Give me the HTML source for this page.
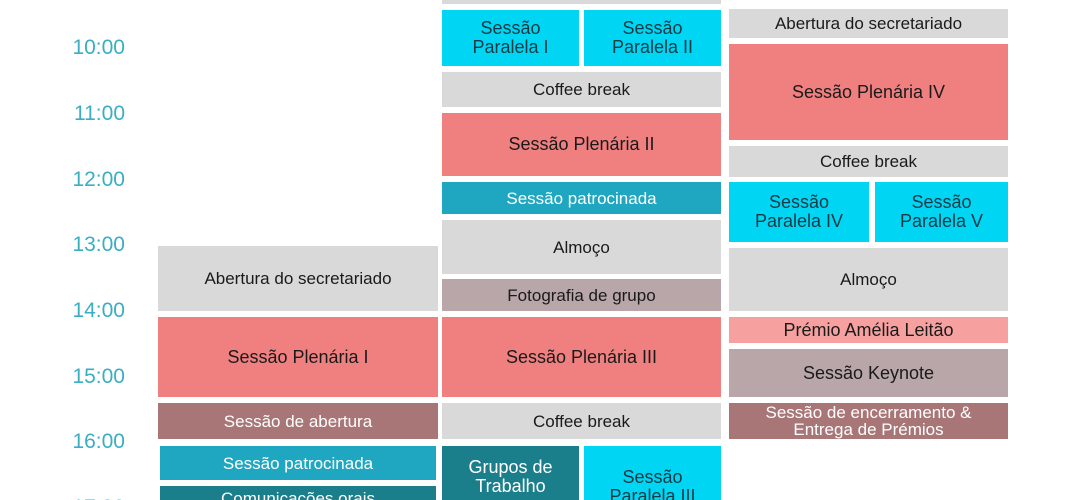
<!DOCTYPE html>
<html style="height:500px;overflow:hidden"><head><meta charset="utf-8"><style>
body{margin:0;width:1080px;height:500px;overflow:hidden;background:#fff;position:relative;font-family:"Liberation Sans",sans-serif}
.b{position:absolute;display:flex;align-items:center;justify-content:center;text-align:center;font-size:17px;line-height:19px;color:#1a1a1a;box-sizing:border-box}
.g{background:#d9d9d9}.r{background:#f08080}.c{background:#00d5f4;color:#113a44;font-size:18px}
.p{background:#1fa6c0;color:#fff}.d{background:#1b7f8b;color:#fff;font-size:18px}
.m{background:#a87676;color:#fff}.f{background:#b9a6a8}.l{background:#f7a0a0}
.t{position:absolute;right:955px;font-size:21px;color:#3aaec2;font-weight:300;transform:translateY(-50%)}
</style></head><body>
<div class="t" style="top:48px">10:00</div>
<div class="t" style="top:114px">11:00</div>
<div class="t" style="top:180px">12:00</div>
<div class="t" style="top:245px">13:00</div>
<div class="t" style="top:311px">14:00</div>
<div class="t" style="top:377px">15:00</div>
<div class="t" style="top:442px">16:00</div>
<div class="t" style="top:508px">17:00</div>

<div class="b g" style="left:158px;top:246px;width:280px;height:65px">Abertura do secretariado</div>
<div class="b r" style="left:158px;top:317px;width:280px;height:80px;font-size:18px">Sessão Plenária I</div>
<div class="b m" style="left:158px;top:403px;width:280px;height:36px">Sessão de abertura</div>
<div class="b p" style="left:160px;top:446px;width:276px;height:34px">Sessão patrocinada</div>
<div class="b d" style="left:160px;top:486px;width:276px;height:30px;align-items:flex-start;padding-top:3px;font-size:17px">Comunicações orais</div>

<div class="b g" style="left:442px;top:-10px;width:279px;height:14px"></div>
<div class="b c" style="left:442px;top:10px;width:137px;height:56px">Sessão<br>Paralela I</div>
<div class="b c" style="left:584px;top:10px;width:137px;height:56px">Sessão<br>Paralela II</div>
<div class="b g" style="left:442px;top:72px;width:279px;height:35px">Coffee break</div>
<div class="b r" style="left:442px;top:113px;width:279px;height:63px;font-size:18px">Sessão Plenária II</div>
<div class="b p" style="left:442px;top:182px;width:279px;height:32px">Sessão patrocinada</div>
<div class="b g" style="left:442px;top:220px;width:279px;height:54px">Almoço</div>
<div class="b f" style="left:442px;top:279px;width:279px;height:32px">Fotografia de grupo</div>
<div class="b r" style="left:442px;top:317px;width:279px;height:80px;font-size:18px">Sessão Plenária III</div>
<div class="b g" style="left:442px;top:403px;width:279px;height:36px">Coffee break</div>
<div class="b d" style="left:442px;top:446px;width:137px;height:60px;align-items:flex-start;padding-top:12px">Grupos de<br>Trabalho</div>
<div class="b c" style="left:584px;top:446px;width:137px;height:70px;align-items:flex-start;padding-top:22px">Sessão<br>Paralela III</div>

<div class="b g" style="left:729px;top:9px;width:279px;height:29px">Abertura do secretariado</div>
<div class="b r" style="left:729px;top:44px;width:279px;height:96px;font-size:18px">Sessão Plenária IV</div>
<div class="b g" style="left:729px;top:146px;width:279px;height:31px">Coffee break</div>
<div class="b c" style="left:729px;top:182px;width:140px;height:60px">Sessão<br>Paralela IV</div>
<div class="b c" style="left:875px;top:182px;width:133px;height:60px">Sessão<br>Paralela V</div>
<div class="b g" style="left:729px;top:248px;width:279px;height:63px">Almoço</div>
<div class="b l" style="left:729px;top:317px;width:279px;height:26px;font-size:18px">Prémio Amélia Leitão</div>
<div class="b f" style="left:729px;top:349px;width:279px;height:48px;font-size:18px">Sessão Keynote</div>
<div class="b m" style="left:729px;top:403px;width:279px;height:36px;line-height:17px">Sessão de encerramento &amp;<br>Entrega de Prémios</div>
</body></html>
